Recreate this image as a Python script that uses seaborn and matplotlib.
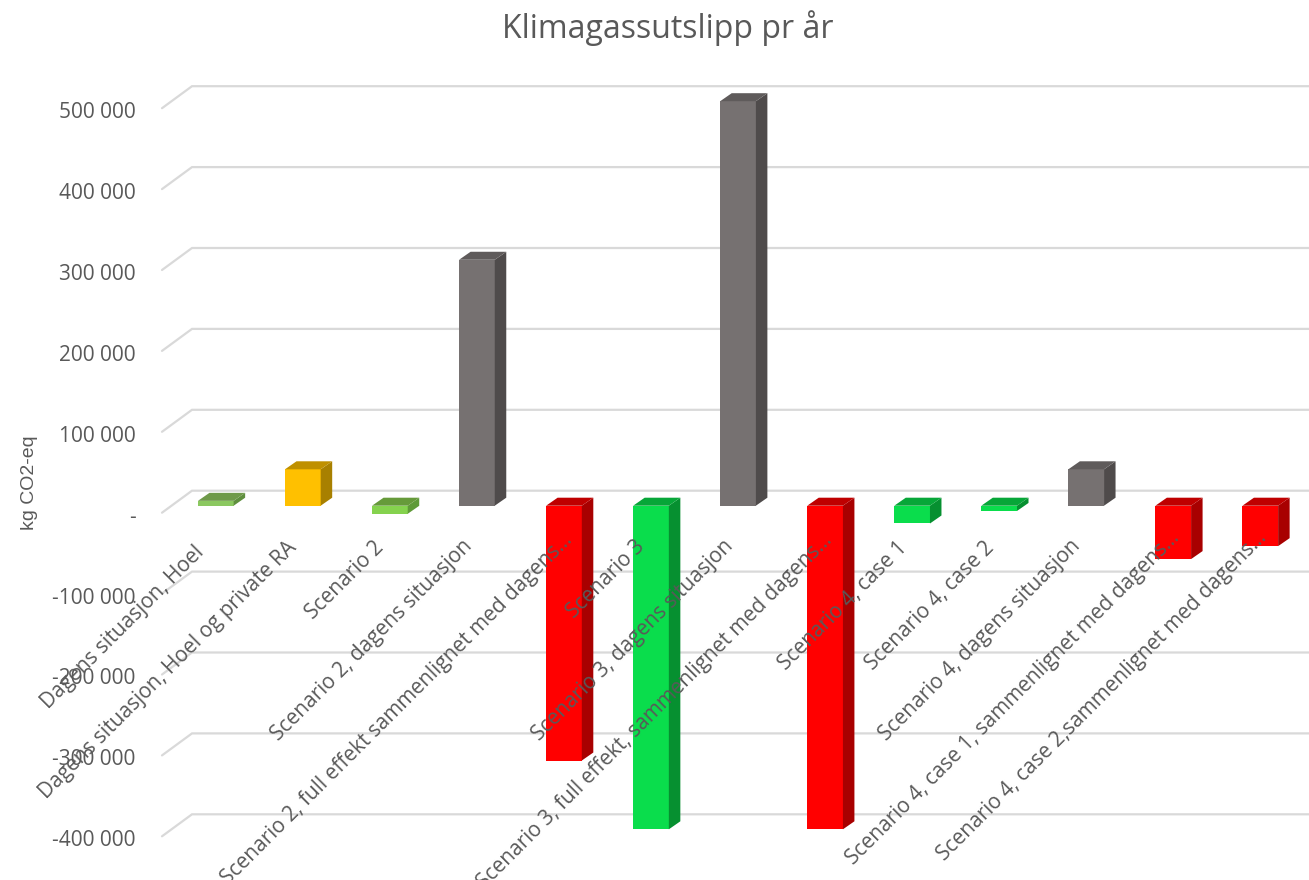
import matplotlib
matplotlib.use("Agg")
import matplotlib.pyplot as plt
import seaborn as sns
from matplotlib.patches import Polygon
from matplotlib.transforms import ScaledTranslation

categories = [
    "Dagens situasjon, Hoel",
    "Dagens situasjon, Hoel og private RA",
    "Scenario 2",
    "Scenario 2, dagens situasjon",
    "Scenario 2, full effekt sammenlignet med dagens…",
    "Scenario 3",
    "Scenario 3, dagens situasjon",
    "Scenario 3, full effekt, sammenlignet med dagens…",
    "Scenario 4, case 1",
    "Scenario 4, case 2",
    "Scenario 4, dagens situasjon",
    "Scenario 4, case 1, sammenlignet med dagens…",
    "Scenario 4, case 2,sammenlignet med dagens…",
]
values = [6000, 45000, -10000, 304000, -315000, -400000, 500000,
          -400000, -22000, -6500, 45000, -66000, -50000]
y_ticks = [500000, 400000, 300000, 200000, 100000, 0,
           -100000, -200000, -300000, -400000]
y_tick_labels = ["500 000", "400 000", "300 000", "200 000", "100 000", "-",
                 "-100 000", "-200 000", "-300 000", "-400 000"]

# front, side and top shades of each bar
front_colors = ["#8BC860", "#FFC000", "#85D24E", "#767171", "#FF0000", "#0ADD4C", "#767171",
                "#FF0000", "#0ADD4C", "#0ADD4C", "#767171", "#FF0000", "#FF0000"]
side_colors = ["#5F8F3E", "#A88000", "#5F9A38", "#4F4B4B", "#A80000", "#069030", "#4F4B4B",
               "#A80000", "#069030", "#069030", "#4F4B4B", "#A80000", "#A80000"]
top_colors = ["#6F9A4A", "#BF9000", "#669A3A", "#5F5B5B", "#BF0000", "#07A638", "#5F5B5B",
              "#BF0000", "#07A638", "#07A638", "#5F5B5B", "#BF0000", "#BF0000"]

TEXT = "#595959"
GRID = "#D9D9D9"
W, H = 1309, 880
AX_LEFT = 140
X0, X_STEP = 215.8, 87.04      # pixel centre of the first bar, pixels per category
Y0, Y_SCALE = 505.7, 0.000809  # pixel height of zero, pixels per unit
BAR_DX, BAR_DY = 11.5, 8.0     # bar depth in pixels
WALL_LEFT = 192
WALL_UP, FLOOR_DOWN = 15.0, 7.0
FLOOR_LEFT = 162

# (right, down) pixel nudges of each category label's end, measured from the bar centre and zero line
label_dx = [-15, -9, -9, -8, 5, -9, -8, 4, -8, -8, -9, 3, 3]
label_dy = [44, 39, 39, 37, 31, 38, 37, 31, 39, 39, 37, 29, 29]

sns.set_theme(style="white")
plt.rcParams["font.family"] = ["Open Sans", "DejaVu Sans"]

fig = plt.figure(figsize=(W / 100, H / 100), dpi=100)
ax = fig.add_axes([AX_LEFT / W, 0, 1 - AX_LEFT / W, 1])

sns.barplot(x=categories, y=values, hue=categories, palette=front_colors, legend=False,
            width=0.41, saturation=1, dodge=False, linewidth=0, ax=ax, zorder=2)

ax.set_xlim((AX_LEFT - X0) / X_STEP, (W - X0) / X_STEP)
ax.set_ylim((Y0 - H) / Y_SCALE, Y0 / Y_SCALE)
depth_x, depth_y = BAR_DX / X_STEP, BAR_DY / Y_SCALE

# side and top faces follow each bar's own rectangle
for bar, side, top in zip(ax.patches, side_colors, top_colors):
    x0, x1 = bar.get_x(), bar.get_x() + bar.get_width()
    y0, y1 = sorted((bar.get_y(), bar.get_y() + bar.get_height()))
    ax.add_patch(Polygon([(x1, y0), (x1 + depth_x, y0 + depth_y),
                          (x1 + depth_x, y1 + depth_y), (x1, y1)],
                         closed=True, fc=side, ec="none", zorder=2))
    ax.add_patch(Polygon([(x0, y1), (x1, y1), (x1 + depth_x, y1 + depth_y),
                          (x0 + depth_x, y1 + depth_y)],
                         closed=True, fc=top, ec="none", zorder=2))

# gridlines run along the back wall and fold forward over the side wall
x_of = lambda px: (px - X0) / X_STEP
for v in y_ticks:
    ax.plot([x_of(FLOOR_LEFT), x_of(WALL_LEFT), x_of(W)],
            [v - FLOOR_DOWN / Y_SCALE, v + WALL_UP / Y_SCALE, v + WALL_UP / Y_SCALE],
            color=GRID, lw=1.6, zorder=1, solid_joinstyle="miter")

sns.despine(fig=fig, left=True, bottom=True, top=True, right=True)
ax.grid(False)
ax.set_axisbelow(False)
ax.set_xlabel("")
ax.set_ylabel("")

ax.set_yticks(y_ticks, y_tick_labels)
ax.tick_params(axis="y", length=0, pad=3, labelsize=15, labelcolor=TEXT)
for lab in ax.get_yticklabels():
    lab.set_transform(lab.get_transform() + ScaledTranslation(0, -9.0 / 100, fig.dpi_scale_trans))

ax.set_xticks(range(len(categories)), categories)
ax.tick_params(axis="x", length=0, pad=0, labelsize=15, labelcolor=TEXT)
for lab, dx, dy in zip(ax.get_xticklabels(), label_dx, label_dy):
    lab.set_rotation(45)
    lab.set_rotation_mode("anchor")
    lab.set_ha("right")
    lab.set_va("center")
    lift = (H - (Y0 + dy)) / 100
    lab.set_transform(lab.get_transform() + ScaledTranslation(dx / 100, lift, fig.dpi_scale_trans))

fig.text(668 / W, 1 - 28 / H, "Klimagassutslipp pr år", ha="center", va="center",
         fontsize=23, color=TEXT)
fig.text(29 / W, 1 - 483 / H, "kg CO2-eq", ha="center", va="center", rotation=90,
         fontsize=14, color=TEXT, family=["Liberation Sans", "DejaVu Sans"])

fig.savefig("out.png", dpi=100, facecolor="white")
